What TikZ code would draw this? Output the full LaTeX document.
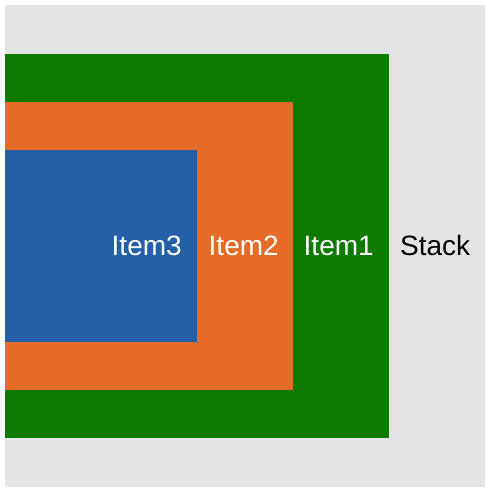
\documentclass[tikz,border=0pt]{standalone}
\usepackage{fontspec}
\setmainfont{Liberation Sans}
\definecolor{stackgray}{HTML}{E4E4E4}
\definecolor{itemgreen}{HTML}{0E7A00}
\definecolor{itemorange}{HTML}{E66A28}
\definecolor{itemblue}{HTML}{255FA8}
\begin{document}
\begin{tikzpicture}[x=1pt,y=-1pt,
  box/.style={anchor=north west,inner sep=0pt,outer sep=0pt,draw=none},
  lbl/.style={anchor=base west,inner sep=0pt,font=\fontsize{28}{32}\selectfont}]
\useasboundingbox (0,0) rectangle (488,492);
\node[box,fill=stackgray,minimum width=480pt,minimum height=482pt] (stack) at (5,5) {};
\node[box,fill=itemgreen,minimum width=384pt,minimum height=384pt] (item1) at (5,54) {};
\node[box,fill=itemorange,minimum width=288pt,minimum height=288pt] (item2) at (5,102) {};
\node[box,fill=itemblue,minimum width=192pt,minimum height=192pt] (item3) at (5,150) {};
\node[lbl,text=black] (tstack) at (400,255.5) {Stack};
\node[lbl,text=white] (titem1) at (303.5,255.5) {Item1};
\node[lbl,text=white] (titem2) at (208.5,255.5) {Item2};
\node[lbl,text=white] (titem3) at (111.5,255.5) {Item3};
\end{tikzpicture}
\end{document}
